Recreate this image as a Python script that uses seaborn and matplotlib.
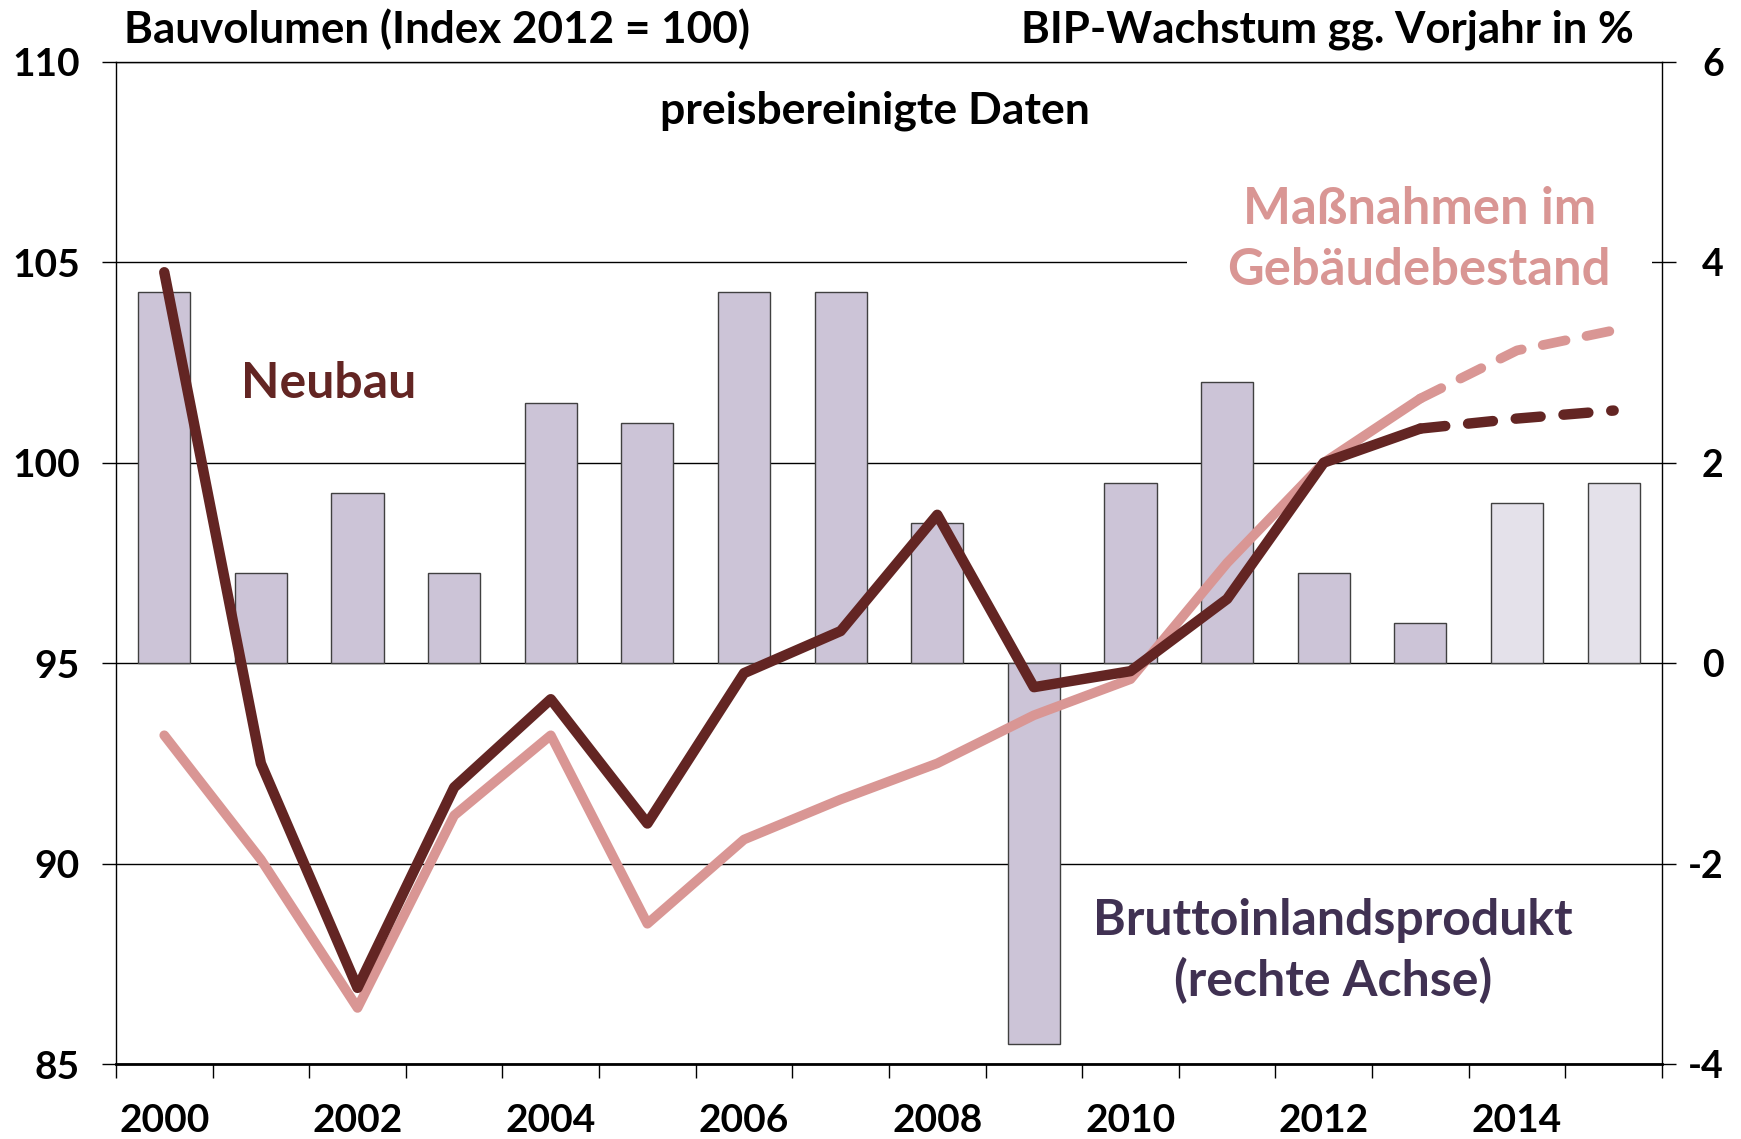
import matplotlib
matplotlib.use("Agg")

import matplotlib.pyplot as plt
import numpy as np
import pandas as pd
import seaborn as sns

# Werte
YEARS = list(range(2000, 2016))
BIP_GROWTH = [3.7, 0.9, 1.7, 0.9, 2.6, 2.4, 3.7, 3.7, 1.4, -3.8, 1.8, 2.8, 0.9, 0.4, 1.6, 1.8]
NEUBAU = [104.75, 92.5, 86.9, 91.9, 94.1, 91.0, 94.75, 95.8, 98.7, 94.4, 94.8, 96.6, 100.0, 100.85, 101.1, 101.3]
BESTAND = [93.2, 90.1, 86.4, 91.2, 93.2, 88.5, 90.6, 91.6, 92.5, 93.7, 94.6, 97.5, 100.0, 101.6, 102.8, 103.3]
LINE_FORECAST_FROM = 2013
BAR_FORECAST_FROM = 2014

LEFT_TICKS = [85, 90, 95, 100, 105, 110]
RIGHT_TICKS = [-4, -2, 0, 2, 4, 6]

DARK = "#632523"
LIGHT = "#d99694"
BAR = "#ccc1da"
BAR_FC = "#e4dfec"
PURPLE = "#403152"


def main() -> None:
    sns.set_style("white")
    plt.rcParams["font.family"] = ["Lato", "DejaVu Sans"]
    plt.rcParams["font.weight"] = "bold"
    plt.rcParams["text.color"] = "black"
    plt.rcParams["axes.unicode_minus"] = False

    df = pd.DataFrame(
        {
            "year": YEARS,
            "pos": np.arange(len(YEARS)),
            "bip": BIP_GROWTH,
            "neubau": NEUBAU,
            "bestand": BESTAND,
        }
    )
    palette = {y: (BAR_FC if y >= BAR_FORECAST_FROM else BAR) for y in YEARS}

    fig = plt.figure(figsize=(17.41, 11.39), dpi=100)
    ax_bar = fig.add_axes([0.0666, 0.0658, 0.888, 0.880])
    ax_line = ax_bar.twinx()

    # Balken: BIP-Wachstum (rechte Achse)
    sns.barplot(
        data=df,
        x="year",
        y="bip",
        hue="year",
        palette=palette,
        legend=False,
        width=0.54,
        edgecolor="#404040",
        linewidth=1,
        ax=ax_bar,
    )

    # Linien: Bauvolumen (linke Achse), Prognose gestrichelt
    solid = df[df["year"] <= LINE_FORECAST_FROM]
    fc = df[df["year"] >= LINE_FORECAST_FROM]
    for col, color, lw in [("bestand", LIGHT, 7.0), ("neubau", DARK, 7.5)]:
        sns.lineplot(
            data=solid, x="pos", y=col, color=color, lw=lw, ax=ax_line,
            solid_capstyle="round", solid_joinstyle="round", estimator=None,
        )
        sns.lineplot(
            data=fc, x="pos", y=col, color=color, lw=lw, ax=ax_line,
            dash_capstyle="round", dash_joinstyle="round", estimator=None,
        )
        ax_line.lines[-1].set_dashes((2.4, 2.2))

    n = len(YEARS)
    ax_bar.set_xlim(-0.5, n - 0.5)
    ax_bar.set_ylim(RIGHT_TICKS[0], RIGHT_TICKS[-1])
    ax_line.set_ylim(LEFT_TICKS[0], LEFT_TICKS[-1])

    # Achsen tauschen: Balkenachse rechts, Linienachse links
    ax_bar.yaxis.tick_right()
    ax_line.yaxis.tick_left()
    ax_bar.set_yticks(RIGHT_TICKS)
    ax_bar.set_yticklabels([str(t) for t in RIGHT_TICKS], ha="right")
    ax_line.set_yticks(LEFT_TICKS)
    ax_line.set_yticklabels([str(t) for t in LEFT_TICKS])

    positions = np.arange(n)
    ax_bar.set_xticks(positions[::2])
    ax_bar.set_xticklabels([str(y) for y in YEARS[::2]])
    ax_bar.set_xticks(np.arange(-0.5, n, 1.0), minor=True)

    ax_bar.tick_params(axis="y", which="major", right=True, left=False, length=10, width=1,
                       direction="out", pad=34.5, labelsize=27, colors="black")
    ax_line.tick_params(axis="y", which="major", left=True, right=False, length=10, width=1,
                        direction="out", pad=16, labelsize=28, colors="black")
    ax_bar.tick_params(axis="x", which="major", length=0, pad=28, labelsize=28, colors="black")
    ax_bar.tick_params(axis="x", which="minor", bottom=True, length=10, width=1, direction="out",
                       colors="black")

    ax_bar.set_xlabel("")
    ax_bar.set_ylabel("")
    ax_line.set_xlabel("")
    ax_line.set_ylabel("")

    ax_bar.set_axisbelow(True)
    ax_bar.yaxis.grid(True, color="black", linewidth=1)
    ax_bar.xaxis.grid(False)

    for side in ["left", "right", "top"]:
        ax_bar.spines[side].set_color("black")
        ax_bar.spines[side].set_linewidth(1)
    ax_bar.spines["bottom"].set_color("black")
    ax_bar.spines["bottom"].set_linewidth(2)
    for sp in ax_line.spines.values():
        sp.set_visible(False)

    # Beschriftungen
    fig.text(0.0712, 0.974, "Bauvolumen (Index 2012 = 100)", fontsize=31.7, ha="left", va="center")
    fig.text(0.9385, 0.974, "BIP-Wachstum gg. Vorjahr in %", fontsize=31.5, ha="right", va="center")
    ax_bar.text(0.491, 0.951, "preisbereinigte Daten", transform=ax_bar.transAxes,
                fontsize=32, ha="center", va="center")
    ax_bar.text(0.081, 0.679, "Neubau", transform=ax_bar.transAxes, color=DARK,
                fontsize=36, ha="left", va="center")
    ax_bar.text(0.843, 0.8226, "Maßnahmen im\nGebäudebestand", transform=ax_bar.transAxes,
                color=LIGHT, fontsize=36.5, ha="center", va="center", linespacing=1.37,
                bbox=dict(boxstyle="square,pad=0.8", facecolor="white", edgecolor="none"))
    ax_bar.text(0.787, 0.1127, "Bruttoinlandsprodukt\n(rechte Achse)", transform=ax_bar.transAxes,
                color=PURPLE, fontsize=36, ha="center", va="center", linespacing=1.37)

    fig.savefig("out.png", dpi=100)
    plt.close(fig)


if __name__ == "__main__":
    main()
